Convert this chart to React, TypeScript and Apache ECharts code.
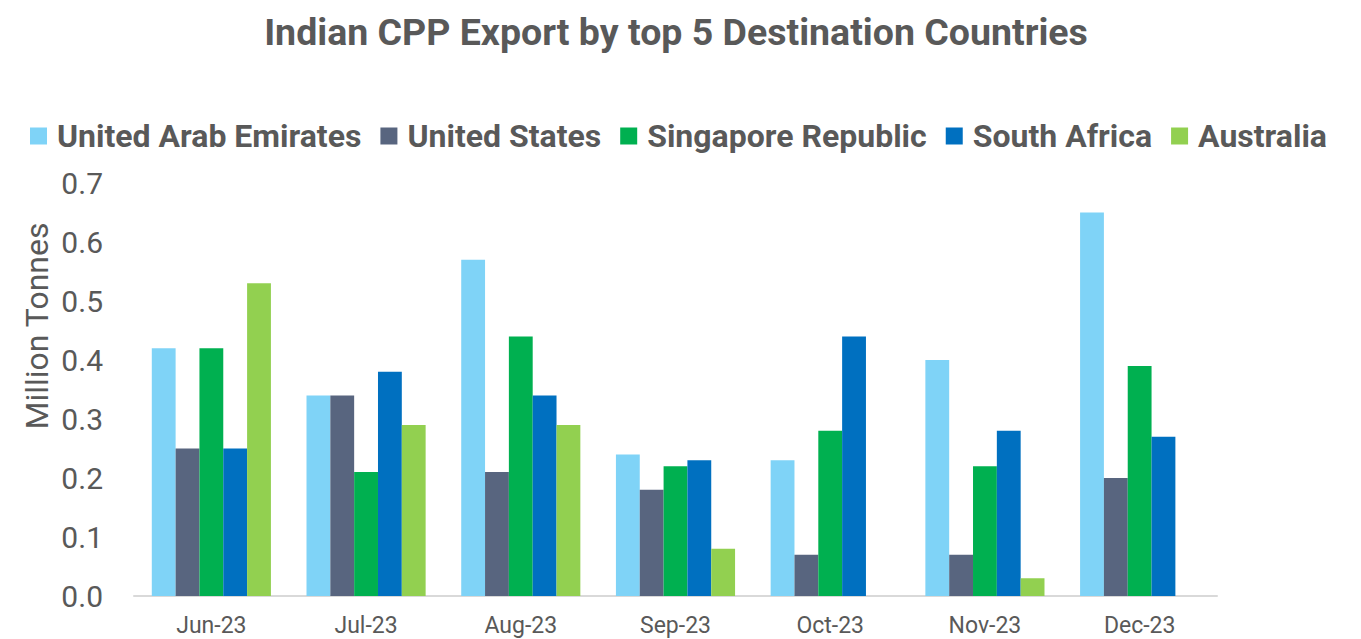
import React, { useEffect, useRef } from "react";
import * as echarts from "echarts";

const categories = ["Jun-23", "Jul-23", "Aug-23", "Sep-23", "Oct-23", "Nov-23", "Dec-23"];
const seriesNames = ["United Arab Emirates", "United States", "Singapore Republic", "South Africa", "Australia"];
const uae = [0.42, 0.34, 0.57, 0.24, 0.23, 0.40, 0.65];
const us = [0.25, 0.34, 0.21, 0.18, 0.07, 0.07, 0.20];
const singapore = [0.42, 0.21, 0.44, 0.22, 0.28, 0.22, 0.39];
const southAfrica = [0.25, 0.38, 0.34, 0.23, 0.44, 0.28, 0.27];
const australia = [0.53, 0.29, 0.29, 0.08, null, 0.03, null];
const colors = ["#7FD3F7", "#58657F", "#00B050", "#0070C0", "#92D050"];

export default function App() {
  const ref = useRef<HTMLDivElement>(null);
  useEffect(() => {
    if (!ref.current) return;
    const chart = echarts.init(ref.current, undefined, { renderer: "svg" });
    const values = [uae, us, singapore, southAfrica, australia];
    chart.setOption({
      animation: false,
      color: colors,
      title: {
        text: "Indian CPP Export by top 5 Destination Countries",
        left: 671,
        textAlign: "center",
        top: 8,
        textStyle: { fontFamily: "Roboto", fontWeight: "bold", fontSize: 37.5, color: "#595959" },
      },
      legend: {
        left: 25,
        top: 115,
        itemWidth: 17,
        itemHeight: 17,
        itemGap: 19,
        icon: "rect",
        textStyle: { fontFamily: "Roboto", fontWeight: "bold", fontSize: 32, color: "#595959", padding: [0, 0, 0, 5] },
        data: seriesNames,
      },
      graphic: [
        {
          type: "text",
          x: 37,
          y: 326,
          rotation: Math.PI / 2,
          style: {
            text: "Million Tonnes",
            fontFamily: "Roboto",
            fontSize: 32,
            fill: "#595959",
            align: "center",
            verticalAlign: "middle",
          },
        },
      ],
      grid: { left: 134, right: 144, top: 183, bottom: 43, containLabel: false },
      xAxis: {
        type: "category",
        data: categories,
        axisLine: { lineStyle: { color: "#D9D9D9", width: 2 } },
        axisTick: { show: false },
        axisLabel: { fontFamily: "Roboto", fontSize: 23, color: "#595959", margin: 18 },
      },
      yAxis: {
        type: "value",
        min: 0,
        max: 0.7,
        interval: 0.1,
        splitLine: { show: false },
        axisLine: { show: false },
        axisTick: { show: false },
        axisLabel: {
          fontFamily: "Roboto",
          fontSize: 30,
          color: "#595959",
          margin: 31,
          formatter: (v: number) => v.toFixed(1),
        },
      },
      series: seriesNames.map((name, i) => ({
        name,
        type: "bar",
        data: values[i],
        barGap: "0%",
        barCategoryGap: "23%",
        itemStyle: { color: colors[i] },
      })),
    });
    return () => chart.dispose();
  }, []);
  return <div ref={ref} style={{ position: "absolute", left: 0, top: 0, width: 1361, height: 639 }} />;
}
